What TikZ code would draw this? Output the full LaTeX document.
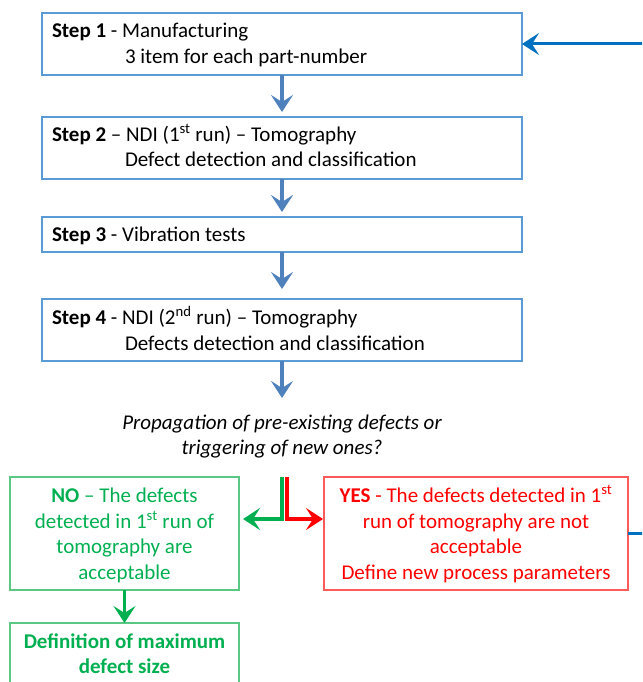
\documentclass[tikz,border=0pt]{standalone}
\usepackage{fontspec}
\setmainfont{Carlito}
\usetikzlibrary{arrows.meta}
\definecolor{boxblue}{RGB}{91,155,213}
\definecolor{arrblue}{RGB}{79,129,189}
\definecolor{loopblue}{RGB}{0,112,192}
\definecolor{grn}{RGB}{0,176,80}
\definecolor{grnbox}{RGB}{90,200,130}
\definecolor{rd}{RGB}{255,0,0}
\definecolor{rdbox}{RGB}{255,90,90}
\begin{document}
\begin{tikzpicture}[x=1pt,y=-1pt,
  every node/.style={font=\fontsize{21pt}{25.7pt}\selectfont, inner sep=0pt, outer sep=0pt},
  bluebox/.style={draw=boxblue, line width=1.5pt, anchor=north west, minimum width=480pt},
  gbox/.style={draw=grnbox, line width=1.5pt, anchor=north west, minimum width=229pt},
  rbox/.style={draw=rdbox, line width=1.5pt, anchor=north west, minimum width=304pt},
  ltxt/.style={anchor=base west, text=black},
  gtxt/.style={anchor=base, text=grn},
  rtxt/.style={anchor=base, text=rd},
  qtxt/.style={anchor=base, text=black, font=\fontsize{21pt}{25.7pt}\selectfont\itshape},
  tipshape/.style={-{Stealth[length=17pt,width=22pt,inset=7pt]}},
  bluearr/.style={tipshape, draw=arrblue, line width=3.2pt},
  grnarr/.style={tipshape, draw=grn, line width=3.5pt, line join=miter},
  redarr/.style={tipshape, draw=rd, line width=3.5pt, line join=miter},
  looparr/.style={tipshape, draw=loopblue, line width=3pt}
]
\useasboundingbox (0,0) rectangle (642,682);
\clip (0,0) rectangle (642,682);

% boxes
\node[bluebox, minimum height=62pt] (s1) at (42,13) {};
\node[bluebox, minimum height=62pt] (s2) at (42,117) {};
\node[bluebox, minimum height=35pt] (s3) at (42,217) {};
\node[bluebox, minimum height=62pt] (s4) at (42,299) {};
\node[gbox, minimum height=113pt] (gb) at (10,477) {};
\node[rbox, minimum height=113pt] (rb) at (324,477) {};
\node[gbox, minimum height=90pt] (db) at (10,623) {};

% texts
\node[ltxt] (t1a) at (52,38) {\textbf{Step 1} - Manufacturing};
\node[ltxt] (t1b) at (125,64) {3 item for each part-number};
\node[ltxt] (t2a) at (52,141) {\textbf{Step 2} – NDI (1\textsuperscript{st} run) – Tomography};
\node[ltxt] (t2b) at (125,166) {Defect detection and classification};
\node[ltxt] (t3) at (52,241) {\textbf{Step 3} - Vibration tests};
\node[ltxt] (t4a) at (52,324) {\textbf{Step 4} - NDI (2\textsuperscript{nd} run) – Tomography};
\node[ltxt] (t4b) at (125,350) {Defects detection and classification};

\node[qtxt] (q1) at (282,429) {Propagation of pre-existing defects or};
\node[qtxt] (q2) at (282,454) {triggering of new ones?};

\node[gtxt] (g1) at (124.5,502) {\textbf{NO} – The defects};
\node[gtxt] (g2) at (124.5,528) {detected in 1\textsuperscript{st} run of};
\node[gtxt] (g3) at (124.5,553) {tomography are};
\node[gtxt] (g4) at (124.5,579) {acceptable};

\node[rtxt] (r1) at (476,502) {\textbf{YES} - The defects detected in 1\textsuperscript{st}};
\node[rtxt] (r2) at (476,528) {run of tomography are not};
\node[rtxt] (r3) at (476,553) {acceptable};
\node[rtxt] (r4) at (476,579) {Define new process parameters};

\node[gtxt] (d1) at (124.5,648) {\textbf{Definition of maximum}};
\node[gtxt] (d2) at (124.5,673) {\textbf{defect size}};

% connectors
\coordinate (qin) at (282,398);
\draw[bluearr, shorten >=5pt] (s1.south) -- (s2.north);
\draw[bluearr, shorten >=5pt] (s2.south) -- (s3.north);
\draw[bluearr, shorten >=10pt] (s3.south) -- (s4.north);
\draw[bluearr] (s4.south) -- (qin);

\coordinate (gs) at (282,477);
\coordinate (gm) at (282,519);
\coordinate (rs) at (287,477);
\coordinate (rm) at (287,519);
\draw[grnarr, shorten >=4pt] (gs) -- (gm) -- (gb.east |- gm);
\draw[redarr, shorten >=1pt] (rs) -- (rm) -- (rb.west |- rm);
\draw[grnarr] (gb.south) -- (db.north);

\coordinate (lt) at (660,44);
\draw[looparr] (rb.east) -| (lt) -- (s1.east);
\end{tikzpicture}
\end{document}
